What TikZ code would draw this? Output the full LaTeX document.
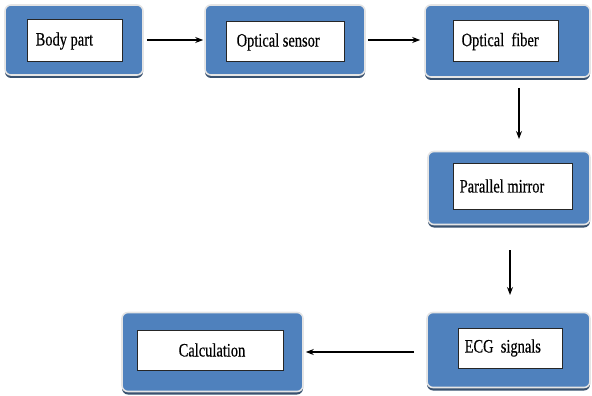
\documentclass[tikz,border=0pt]{standalone}
\usepackage{fontspec}
\setmainfont{Liberation Serif}
\newfontfamily\narrowserif[FakeStretch=0.76,FakeBold=0.4]{Liberation Serif}
\usetikzlibrary{shadows,arrows.meta}
\definecolor{boxblue}{HTML}{4F81BD}
\definecolor{shadowblue}{HTML}{243F60}
\tikzset{
  outerbox/.style={draw=black!10, line width=1.6pt, fill=boxblue, rounded corners=6pt,
    drop shadow={shadow xshift=0pt, shadow yshift=-3pt, fill=shadowblue, opacity=0.9}},
  innerbox/.style={draw=black!85, line width=1pt, fill=white, inner sep=0pt},
  label/.style={font=\narrowserif\fontsize{19}{21}\selectfont, inner sep=0pt},
  flow/.style={-{Stealth[length=8pt,width=6pt]}, line width=1.1pt, black}
}
\begin{document}
\begin{tikzpicture}[x=1pt,y=-1pt]
\useasboundingbox (0,0) rectangle (592,396);
% outer boxes
\node[outerbox, minimum width=138pt, minimum height=70pt] (o1) at (74,40) {};
\node[outerbox, minimum width=160pt, minimum height=70pt] (o2) at (285,40) {};
\node[outerbox, minimum width=165pt, minimum height=72pt] (o3) at (507.5,41) {};
\node[outerbox, minimum width=162pt, minimum height=73pt] (o4) at (509,188) {};
\node[outerbox, minimum width=163pt, minimum height=75pt] (o5) at (508.5,350) {};
\node[outerbox, minimum width=181pt, minimum height=79pt] (o6) at (212.5,352) {};
% inner boxes
\node[innerbox, minimum width=95pt, minimum height=42pt] (i1) at (74.5,41) {};
\node[innerbox, minimum width=118pt, minimum height=40pt] (i2) at (285,42) {};
\node[innerbox, minimum width=105pt, minimum height=41pt] (i3) at (505.5,41.5) {};
\node[innerbox, minimum width=119pt, minimum height=46pt] (i4) at (512.5,186) {};
\node[innerbox, minimum width=104pt, minimum height=40pt] (i5) at (510,348) {};
\node[innerbox, minimum width=146pt, minimum height=40pt] (i6) at (210,350) {};
% labels
\node[label, anchor=west] (t1) at ([xshift=9pt]i1.west) {Body part};
\node[label, anchor=west] (t2) at ([xshift=11pt]i2.west) {Optical sensor};
\node[label, anchor=west] (t3) at ([xshift=9pt]i3.west) {Optical\ \ fiber};
\node[label, anchor=west] (t4) at ([xshift=7pt]i4.west) {Parallel mirror};
\node[label, anchor=west] (t5) at ([xshift=7pt]i5.west) {ECG\ \ signals};
\node[label] (t6) at ([xshift=2pt]i6.center) {Calculation};
% connectors
\draw[flow] ([xshift=3pt]o1.east |- 0,40) -- ([xshift=-1pt]o2.west |- 0,40);
\draw[flow] ([xshift=2pt]o2.east |- 0,40) -- ([xshift=-4pt]o3.west |- 0,40);
\coordinate (a3) at (519,88);
\coordinate (b3) at (519,139);
\draw[flow] (a3) -- (b3);
\coordinate (a4) at (510,250);
\coordinate (b4) at (510,295);
\draw[flow] (a4) -- (b4);
\draw[flow] ([xshift=-12pt]o5.west |- 0,352) -- ([xshift=2pt]o6.east |- 0,352);
\end{tikzpicture}
\end{document}
